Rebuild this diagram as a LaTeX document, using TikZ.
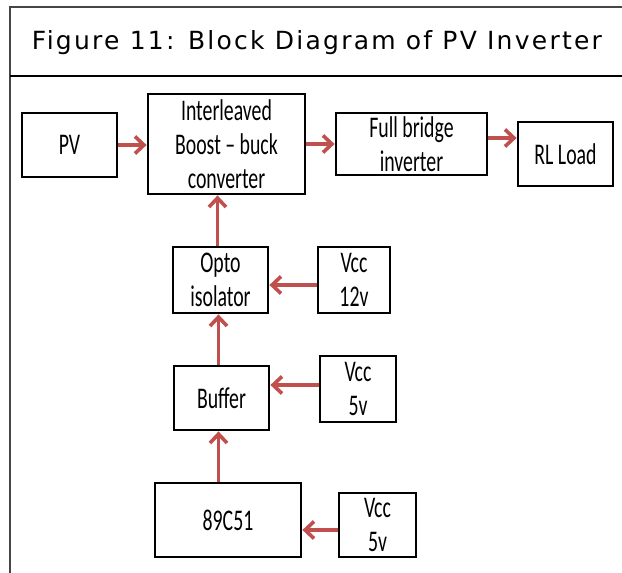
\documentclass[tikz,border=0pt]{standalone}
\usepackage{fontspec}
\setmainfont{Carlito}
\newfontfamily\blockfont[FakeStretch=0.66, Ligatures=TeX]{Carlito}
\newfontfamily\titlefont[LetterSpace=9]{DejaVu Sans}
\usepackage{xcolor}
\definecolor{ArrowRed}  {RGB}{192, 80, 77}
\definecolor{FrameGray} {RGB}{70,  70, 70}
\usetikzlibrary{arrows.meta}

\begin{document}
\begin{tikzpicture}[
  x=1pt, y=-1pt,
  block/.style={
    draw=black, line width=2.8pt, fill=white,
    align=center, inner sep=0pt,
    font=\blockfont\fontsize{30}{34}\selectfont
  },
  arrow/.style={
    -{Straight Barb[length=9pt, width=17pt]},
    line width=3.6pt, ArrowRed},
  frame/.style={line width=1.6pt}
]
\useasboundingbox (0,0) rectangle (622,573);

% frame and title
\draw[frame, FrameGray] (10,573) -- (10,7) -- (622,7);
\draw[frame, black] (10,76) -- (622,76);
\node[font=\titlefont\fontsize{25}{28}\selectfont] (title) at (317,43)
  {Figure 11: Block Diagram of PV Inverter};

% power path
\node[block, minimum width=95pt, minimum height=64pt] (pv) at (69.5,145)
  {PV};
\node[block, minimum width=157pt, minimum height=100pt] (conv) at (226.5,144)
  {Interleaved\\Boost – buck\\converter};
\node[block, minimum width=151pt, minimum height=62pt] (inv) at (411.5,144)
  {Full bridge\\inverter};
\node[block, minimum width=95pt, minimum height=64pt] (load) at (565.5,154)
  {RL Load};

% control path
\node[block, minimum width=95pt, minimum height=66pt] (opto) at (220.5,280)
  {Opto\\isolator};
\node[block, minimum width=72pt, minimum height=66pt] (vcc12) at (354,280)
  {Vcc\\12v};
\node[block, minimum width=95pt, minimum height=64pt] (buf) at (221.5,398)
  {Buffer};
\node[block, minimum width=76pt, minimum height=66pt] (vccbuf) at (358,389)
  {Vcc\\5v};
\node[block, minimum width=146pt, minimum height=74pt] (mcu) at (228,520)
  {89C51};
\node[block, minimum width=77pt, minimum height=64pt] (vccmcu) at (377.5,525)
  {Vcc\\5v};

\draw[arrow] (pv.east) -- (pv.east -| conv.west);
\draw[arrow] (conv.east |- inv.west) -- (inv.west);
\draw[arrow] ([yshift=6pt]inv.east) -- ([yshift=6pt]inv.east -| load.west);
\draw[arrow] ([yshift=-5pt]vcc12.west) -- ([yshift=-5pt]vcc12.west -| opto.east);
\draw[arrow] ([xshift=-3pt]opto.north) -- ([xshift=-3pt]opto.north |- conv.south);
\draw[arrow] ([xshift=-3pt]buf.north) -- ([xshift=-3pt]buf.north |- opto.south);
\draw[arrow] ([yshift=4pt]vccbuf.west) -- ([yshift=4pt]vccbuf.west -| buf.east);
\draw[arrow] ([xshift=-3pt]buf.south |- mcu.north) -- ([xshift=-3pt]buf.south);
\draw[arrow] ([yshift=-5pt]vccmcu.west) -- ([yshift=-5pt]vccmcu.west -| mcu.east);

\end{tikzpicture}
\end{document}
